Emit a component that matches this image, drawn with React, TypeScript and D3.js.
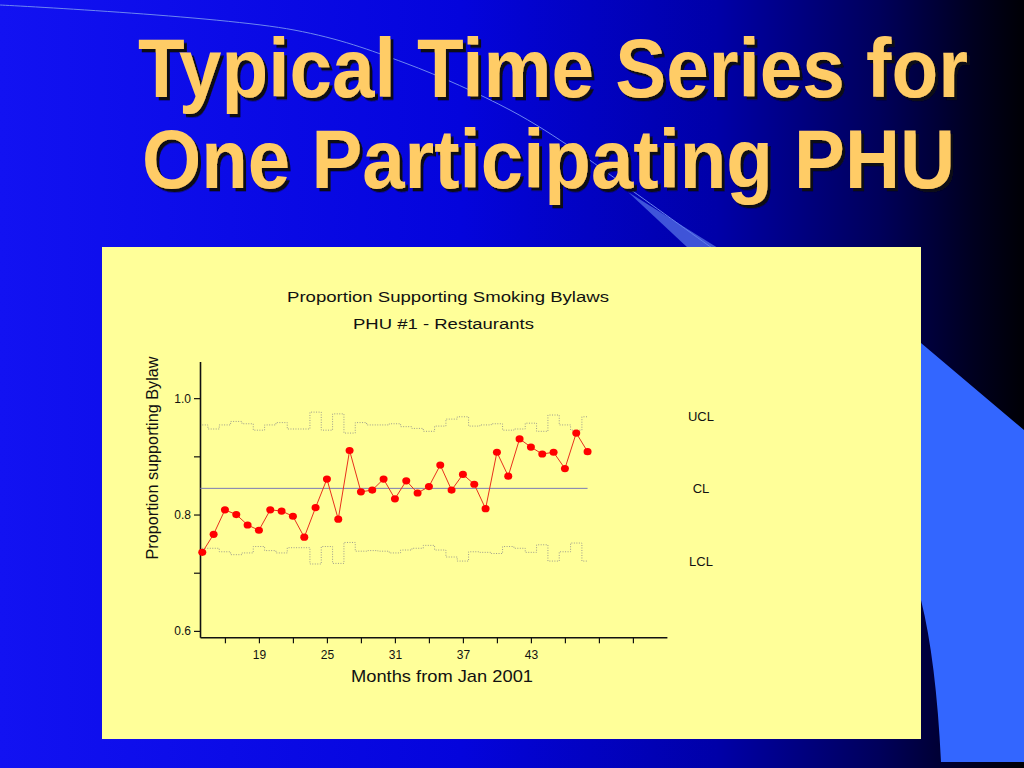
import { useEffect, useRef } from "react";
import * as d3 from "d3";

// months from Jan 2001
const months = [
	14, 15, 16, 17, 18, 19, 20, 21, 22, 23, 24, 25, 26, 27, 28, 29, 30, 31, 32,
	33, 34, 35, 36, 37, 38, 39, 40, 41, 42, 43, 44, 45, 46, 47, 48,
];

const proportion = [
	0.735, 0.766, 0.808, 0.8, 0.782, 0.773, 0.808, 0.806, 0.797, 0.761, 0.812,
	0.861, 0.792, 0.91, 0.839, 0.842, 0.861, 0.827, 0.858, 0.837, 0.848, 0.885,
	0.842, 0.869, 0.852, 0.81, 0.907, 0.866, 0.93, 0.916, 0.904, 0.907, 0.879,
	0.94, 0.908,
];

const ucl = [
	0.954, 0.947, 0.954, 0.96, 0.956, 0.945, 0.954, 0.958, 0.947, 0.947, 0.976,
	0.945, 0.973, 0.94, 0.958, 0.954, 0.954, 0.956, 0.951, 0.948, 0.943, 0.952,
	0.964, 0.968, 0.952, 0.954, 0.956, 0.945, 0.947, 0.957, 0.943, 0.971, 0.954,
	0.945, 0.968,
];

const lcl = [
	0.742, 0.742, 0.736, 0.731, 0.734, 0.745, 0.738, 0.734, 0.743, 0.743, 0.715,
	0.745, 0.716, 0.752, 0.737, 0.738, 0.737, 0.734, 0.739, 0.742, 0.747, 0.739,
	0.727, 0.72, 0.736, 0.735, 0.733, 0.745, 0.742, 0.735, 0.748, 0.72, 0.736,
	0.751, 0.72,
];

const centerLine = 0.845;

const yTicks = [0.6, 0.7, 0.8, 0.9, 1.0];
const yTickLabels = ["0.6", "", "0.8", "", "1.0"];
const xTicks = [16, 19, 22, 25, 28, 31, 34, 37, 40, 43, 46, 49, 52];
const xTickLabels = ["", "19", "", "25", "", "31", "", "37", "", "43", "", "", ""];

const limitLabels = [
	{ text: "UCL", value: 0.968 },
	{ text: "CL", value: centerLine },
	{ text: "LCL", value: 0.719 },
];

const FONT = "'Liberation Sans', Arial, Helvetica, sans-serif";

export default function App() {
	const svgRef = useRef<SVGSVGElement>(null);

	useEffect(() => {
		if (!svgRef.current) return;
		const svg = d3.select(svgRef.current);
		svg.selectAll("*").remove();

		const defs = svg.append("defs");
		const grad = defs
			.append("linearGradient")
			.attr("id", "bg")
			.attr("x1", "0")
			.attr("x2", "1")
			.attr("y1", "0")
			.attr("y2", "0");
		[
			["0", "#1212f2"],
			["0.45", "#0404dc"],
			["0.7", "#0000a8"],
			["0.86", "#00005a"],
			["0.95", "#000020"],
			["1", "#000005"],
		].forEach(([o, c]) => grad.append("stop").attr("offset", o).attr("stop-color", c));

		const shadow = defs
			.append("filter")
			.attr("id", "shadow")
			.attr("x", "-5%")
			.attr("y", "-20%")
			.attr("width", "110%")
			.attr("height", "140%");
		shadow
			.append("feDropShadow")
			.attr("dx", 3)
			.attr("dy", 3)
			.attr("stdDeviation", 0.4)
			.attr("flood-color", "#0a0a18")
			.attr("flood-opacity", 1);

		// slide background
		svg.append("rect").attr("width", 1024).attr("height", 768).attr("fill", "url(#bg)");

		svg
			.append("path")
			.attr("d", "M921,343 L1024,430 L1024,762 L941,762 Q936,660 921,600 Z")
			.attr("fill", "#3366ff");

		const arc = d3
			.line<[number, number]>()
			.curve(d3.curveCatmullRom)([
			[0, 5],
			[294, 30],
			[405, 63],
			[510, 110],
			[575, 150],
			[627, 187],
			[712, 248],
		]);
		svg
			.append("path")
			.attr("d", arc)
			.attr("fill", "none")
			.attr("stroke", "#6d86f0")
			.attr("stroke-width", 1);
		svg
			.append("path")
			.attr("d", "M628,192 L718,248 L688,248 Z")
			.attr("fill", "#5a78ea")
			.attr("opacity", 0.7);

		// slide title (slightly tall, narrow lettering)
		const titleLines = [
			{ text: "Typical Time Series for", x: 138, y: 97, w: 830 },
			{ text: "One Participating PHU", x: 142, y: 188, w: 813 },
		];
		titleLines.forEach((t) => {
			svg
				.append("text")
				.attr("transform", `translate(${t.x},${t.y}) scale(1,1.1)`)
				.attr("textLength", t.w)
				.attr("lengthAdjust", "spacingAndGlyphs")
				.attr("font-family", FONT)
				.attr("font-weight", "bold")
				.attr("font-size", 75.5)
				.attr("fill", "#ffcc66")
				.attr("filter", "url(#shadow)")
				.text(t.text);
		});

		// chart panel
		svg
			.append("rect")
			.attr("x", 102)
			.attr("y", 247)
			.attr("width", 819)
			.attr("height", 492)
			.attr("fill", "#ffff99");

		const x = d3.scaleLinear().domain([13.8, 55]).range([200, 666.9]);
		const y = d3.scaleLinear().domain([0.589, 1.063]).range([637.3, 361.5]);

		const g = svg.append("g");

		// axes
		const yAxis = d3
			.axisLeft(y)
			.tickValues(yTicks)
			.tickSize(6)
			.tickSizeOuter(0)
			.tickFormat((_, i) => yTickLabels[i]);
		const yG = g.append("g").attr("transform", `translate(${x(13.8)},0)`).call(yAxis);

		const xAxis = d3
			.axisBottom(x)
			.tickValues(xTicks)
			.tickSize(6)
			.tickSizeOuter(0)
			.tickFormat((_, i) => xTickLabels[i]);
		const xG = g.append("g").attr("transform", `translate(0,${y(0.589)})`).call(xAxis);

		[yG, xG].forEach((a) => {
			a.attr("font-family", FONT).attr("font-size", 12);
			a.select(".domain").attr("stroke", "#111").attr("stroke-width", 1.6);
			a.selectAll(".tick line").attr("stroke", "#111").attr("stroke-width", 1.2);
			a.selectAll(".tick text").attr("fill", "#111");
		});
		xG.selectAll(".tick text").attr("dy", "1.1em");

		// control limits
		const step = d3
			.line<number>()
			.x((_, i) => x(months[i]))
			.y((d) => y(d))
			.curve(d3.curveStep);
		[ucl, lcl].forEach((arr) => {
			g.append("path")
				.datum(arr)
				.attr("d", step)
				.attr("fill", "none")
				.attr("stroke", "#9c9c8c")
				.attr("stroke-width", 1)
				.attr("stroke-dasharray", "1,1.5");
		});

		g.append("line")
			.attr("x1", x(months[0]) - 2)
			.attr("x2", x(months[months.length - 1]))
			.attr("y1", y(centerLine))
			.attr("y2", y(centerLine))
			.attr("stroke", "#7a7ab6")
			.attr("stroke-width", 1);

		// data series
		const line = d3
			.line<number>()
			.x((_, i) => x(months[i]))
			.y((d) => y(d));
		g.append("path")
			.datum(proportion)
			.attr("d", line)
			.attr("fill", "none")
			.attr("stroke", "#e8301c")
			.attr("stroke-width", 1);

		g.selectAll("ellipse.pt")
			.data(proportion)
			.join("ellipse")
			.attr("class", "pt")
			.attr("cx", (_, i) => x(months[i]))
			.attr("cy", (d) => y(d))
			.attr("rx", 4)
			.attr("ry", 3.6)
			.attr("fill", "#ff0000");

		// limit labels
		g.selectAll("text.lim")
			.data(limitLabels)
			.join("text")
			.attr("class", "lim")
			.attr("x", 701)
			.attr("y", (d) => y(d.value))
			.attr("dy", "0.35em")
			.attr("text-anchor", "middle")
			.attr("font-family", FONT)
			.attr("font-size", 13)
			.attr("fill", "#111")
			.text((d) => d.text);

		// chart titles
		const texts = [
			{ t: "Proportion Supporting Smoking Bylaws", x: 448, y: 302, w: 322, s: 15.5 },
			{ t: "PHU #1 - Restaurants", x: 443.5, y: 329, w: 181, s: 15.5 },
			{ t: "Months from Jan 2001", x: 442, y: 681.5, w: 182, s: 17 },
		];
		texts.forEach((d) => {
			g.append("text")
				.attr("x", d.x)
				.attr("y", d.y)
				.attr("text-anchor", "middle")
				.attr("textLength", d.w)
				.attr("lengthAdjust", "spacingAndGlyphs")
				.attr("font-family", FONT)
				.attr("font-size", d.s)
				.attr("fill", "#111")
				.text(d.t);
		});

		g.append("text")
			.attr("transform", "translate(158,458) rotate(-90)")
			.attr("text-anchor", "middle")
			.attr("textLength", 203)
			.attr("lengthAdjust", "spacingAndGlyphs")
			.attr("font-family", FONT)
			.attr("font-size", 16)
			.attr("fill", "#111")
			.text("Proportion supporting Bylaw");
	}, []);

	return (
		<svg
			ref={svgRef}
			width={1024}
			height={768}
			style={{ position: "absolute", left: 0, top: 0 }}
		/>
	);
}
